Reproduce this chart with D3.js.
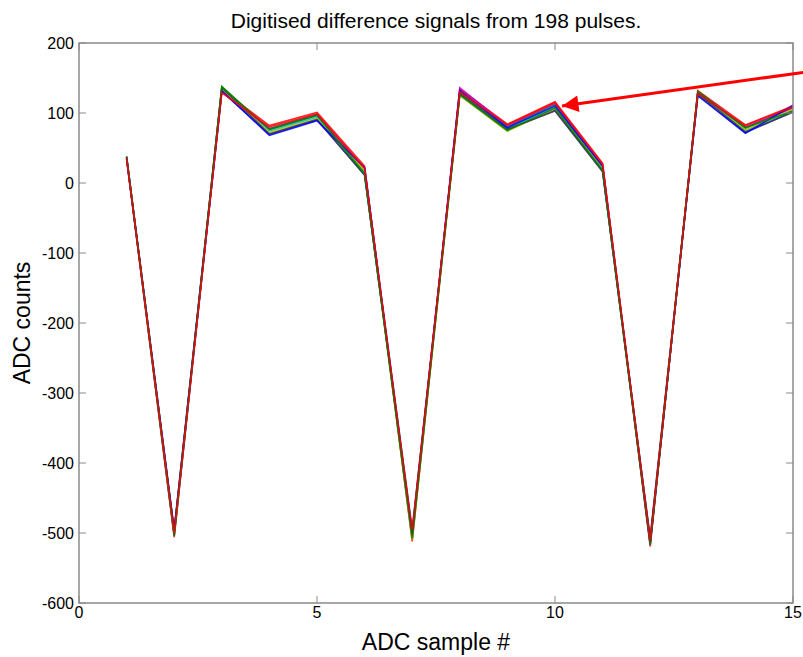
<!DOCTYPE html>
<html>
<head>
<meta charset="utf-8">
<script src="https://cdn.jsdelivr.net/npm/d3@7.9.0/dist/d3.min.js"></script>
<style>
  body { margin: 0; background: #fff; }
  svg { display: block; font-family: "Liberation Sans", Arial, sans-serif; }
</style>
</head>
<body>
<svg id="chart" width="803" height="657"></svg>
<script>
// sample numbers on the x axis
const samples = [1, 2, 3, 4, 5, 6, 7, 8, 9, 10, 11, 12, 13, 14, 15];

// a handful of the 198 pulses
const pulseBlue    = [36, -498, 131, 70, 90, 12, -500, 127, 76, 104, 17, -512, 126, 72, 102];
const pulseGreen   = [38, -502, 138, 76, 96, 16, -506, 131, 80, 112, 21, -515, 130, 78, 108];
const pulseRed     = [35, -506, 133, 82, 101, 24, -512, 134, 84, 116, 28, -519, 132, 83, 110];
const pulseCyan    = [37, -496, 135, 74, 94, 14, -494, 129, 78, 108, 19, -508, 127, 75, 104];
const pulseMagenta = [34, -503, 130, 78, 98, 20, -504, 136, 82, 114, 25, -516, 129, 80, 107];
const pulseYellow  = [36, -500, 134, 72, 92, 18, -510, 125, 74, 106, 22, -510, 124, 76, 105];
const pulseBlack   = [38, -495, 136, 70, 91, 11, -498, 128, 77, 103, 16, -506, 128, 73, 101];
const pulseBlue2   = [35, -497, 132, 68, 89, 22, -502, 132, 79, 110, 24, -513, 125, 71, 111];
const pulseGreen2  = [37, -504, 137, 77, 97, 13, -508, 126, 75, 107, 18, -517, 131, 79, 103];
const pulseRed2    = [36, -499, 129, 80, 99, 21, -496, 130, 83, 115, 27, -511, 128, 82, 109];

const pulses = [pulseBlue, pulseGreen, pulseRed, pulseCyan, pulseMagenta,
                pulseYellow, pulseBlack, pulseBlue2, pulseGreen2, pulseRed2];
const colors = ['#0000ff', '#008000', '#ff0000', '#00bfbf', '#bf00bf',
                '#bfbf00', '#404040', '#0000ff', '#008000', '#ff0000'];

const xTicks = [0, 5, 10, 15];
const yTicks = [200, 100, 0, -100, -200, -300, -400, -500, -600];

const title = 'Digitised difference signals from 198 pulses.';
const xLabel = 'ADC sample #';
const yLabel = 'ADC counts';

const width = 803, height = 657;
const margin = { top: 43, right: 10, bottom: 54, left: 79 };
const svg = d3.select('#chart');

const x = d3.scaleLinear().domain([0, 15]).range([margin.left, width - margin.right]);
const y = d3.scaleLinear().domain([-600, 200]).range([height - margin.bottom, margin.top]);

// pulse traces
const line = d3.line().x((d, i) => x(samples[i])).y(d => y(d));
svg.append('g')
  .selectAll('path')
  .data(pulses)
  .join('path')
  .attr('d', line)
  .attr('fill', 'none')
  .attr('stroke', (_, i) => colors[i])
  .attr('stroke-width', 1.6)
  .attr('stroke-linejoin', 'miter')
  .attr('opacity', 0.85);

// axes box, ticks inside like matlab
const axisColor = '#8a8a8a';
const tickLen = 7;
const box = svg.append('g');
box.append('rect')
  .attr('x', x(0)).attr('y', y(200))
  .attr('width', x(15) - x(0)).attr('height', y(-600) - y(200))
  .attr('fill', 'none').attr('stroke', axisColor).attr('stroke-width', 1.5);

xTicks.forEach(t => {
  box.append('line').attr('x1', x(t)).attr('x2', x(t))
    .attr('y1', y(-600)).attr('y2', y(-600) - tickLen)
    .attr('stroke', axisColor);
  box.append('line').attr('x1', x(t)).attr('x2', x(t))
    .attr('y1', y(200)).attr('y2', y(200) + tickLen)
    .attr('stroke', axisColor);
  svg.append('text')
    .attr('x', x(t)).attr('y', y(-600) + 15)
    .attr('text-anchor', 'middle')
    .attr('font-size', 16)
    .text(t);
});

yTicks.forEach(t => {
  box.append('line').attr('x1', x(0)).attr('x2', x(0) + tickLen)
    .attr('y1', y(t)).attr('y2', y(t))
    .attr('stroke', axisColor);
  box.append('line').attr('x1', x(15)).attr('x2', x(15) - tickLen)
    .attr('y1', y(t)).attr('y2', y(t))
    .attr('stroke', axisColor);
  svg.append('text')
    .attr('x', x(0) - 5).attr('y', y(t) + 6)
    .attr('text-anchor', 'end')
    .attr('font-size', 16)
    .text(t);
});

// titles
svg.append('text')
  .attr('x', 436).attr('y', 28)
  .attr('text-anchor', 'middle')
  .attr('font-size', 21)
  .text(title);

svg.append('text')
  .attr('x', 436).attr('y', 650)
  .attr('text-anchor', 'middle')
  .attr('font-size', 23)
  .text(xLabel);

svg.append('text')
  .attr('transform', `translate(30,${(y(200) + y(-600)) / 2}) rotate(-90)`)
  .attr('text-anchor', 'middle')
  .attr('font-size', 23)
  .text(yLabel);

// red arrow pointing at sample 10
const defs = svg.append('defs');
defs.append('marker')
  .attr('id', 'head')
  .attr('viewBox', '0 0 10 10')
  .attr('refX', 10).attr('refY', 5)
  .attr('markerWidth', 7).attr('markerHeight', 5.5)
  .attr('markerUnits', 'strokeWidth')
  .attr('orient', 'auto')
  .append('path')
  .attr('d', 'M0,0 L10,5 L0,10 Z')
  .attr('fill', '#ff0000');

svg.append('line')
  .attr('x1', 806).attr('y1', 72)
  .attr('x2', x(10) + 7).attr('y2', y(110))
  .attr('stroke', '#ff0000')
  .attr('stroke-width', 3)
  .attr('marker-end', 'url(#head)');
</script>
</body>
</html>
